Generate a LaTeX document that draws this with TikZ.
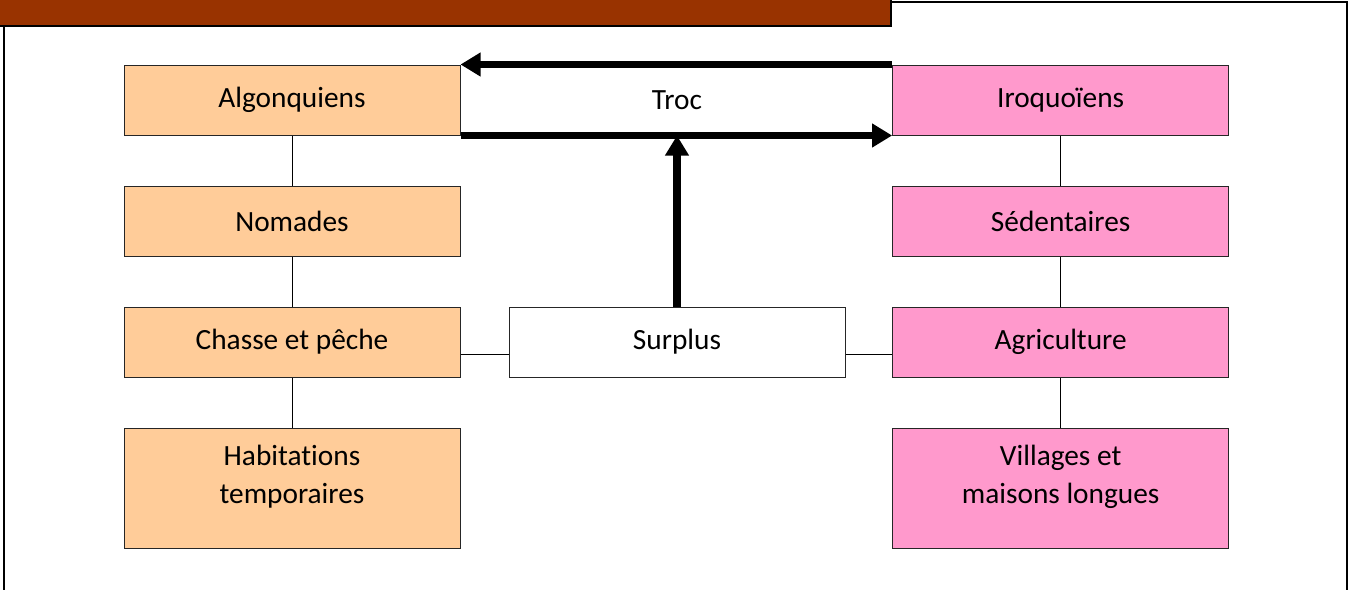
\documentclass[tikz,border=0pt]{standalone}
\usepackage{fontspec}
\setmainfont{Carlito}[Ligatures=NoCommon]
\usetikzlibrary{positioning,arrows.meta}
\definecolor{peau}{HTML}{FFCC99}
\definecolor{rose}{HTML}{FF99CC}
\definecolor{brique}{HTML}{993300}

\begin{document}
\begin{tikzpicture}[x=0.75pt,y=-0.75pt,node distance=37.5pt and 36pt,
    box/.style={draw=black!85,line width=0.75pt,fill=white,minimum width=252pt,minimum height=52.5pt,inner sep=0pt,align=center,font=\fontsize{22}{28.5}\selectfont},
    algo/.style={box,fill=peau},
    iro/.style={box,fill=rose},
    grand/.style={minimum height=90pt,text depth=20pt},
    fleche/.style={-{Triangle[length=15pt,width=17pt]},line width=5.5pt}]
            \useasboundingbox (0,0) rectangle (1349,590);
            % cadre et bandeau
            \fill[brique] (0,0) rectangle (891,25);
            \draw[line width=1.5pt] (891,0) -- (891,26) -- (0,26);
            \draw[line width=1.5pt] (4,26) -- (4,590);
            \draw[line width=1.5pt] (891,2) -- (1347,2) -- (1347,590);

            \node[algo] (a1) at (292,100) {Algonquiens};
            \node[algo] (a2) [below=of a1] {Nomades};
            \node[algo] (a3) [below=of a2] {Chasse et pêche};
            \node[algo, grand] (a4) [below=of a3] {Habitations\\temporaires};
            \node[box] (s) [right=36pt of a3] {Surplus};
            \node[iro] (i3) [right=35pt of s] {Agriculture};
            \node[iro] (i2) [above=of i3] {Sédentaires};
            \node[iro] (i1) [above=of i2] {Iroquoïens};
            \node[iro, grand] (i4) [below=of i3] {Villages et\\maisons longues};
            \node[font=\fontsize{22}{28.5}\selectfont] (t) at (s |- a1) {Troc};
            \coordinate (x) at (s.north |- a1.south);

            \path[line width=0.75pt]
                (a1) edge (a2)
                (a2) edge (a3)
                (a3) edge (a4)
                (i1) edge (i2)
                (i2) edge (i3)
                (i3) edge (i4)
                ([yshift=-9pt]a3.east) edge ([yshift=-9pt]s.west)
                ([yshift=-9pt]s.east) edge ([yshift=-9pt]i3.west)
                ;
            \path[fleche]
                (i1.north west) edge (a1.north east)
                (a1.south east) edge (i1.south west)
                (s) edge (x)
                ;
\end{tikzpicture}
\end{document}
